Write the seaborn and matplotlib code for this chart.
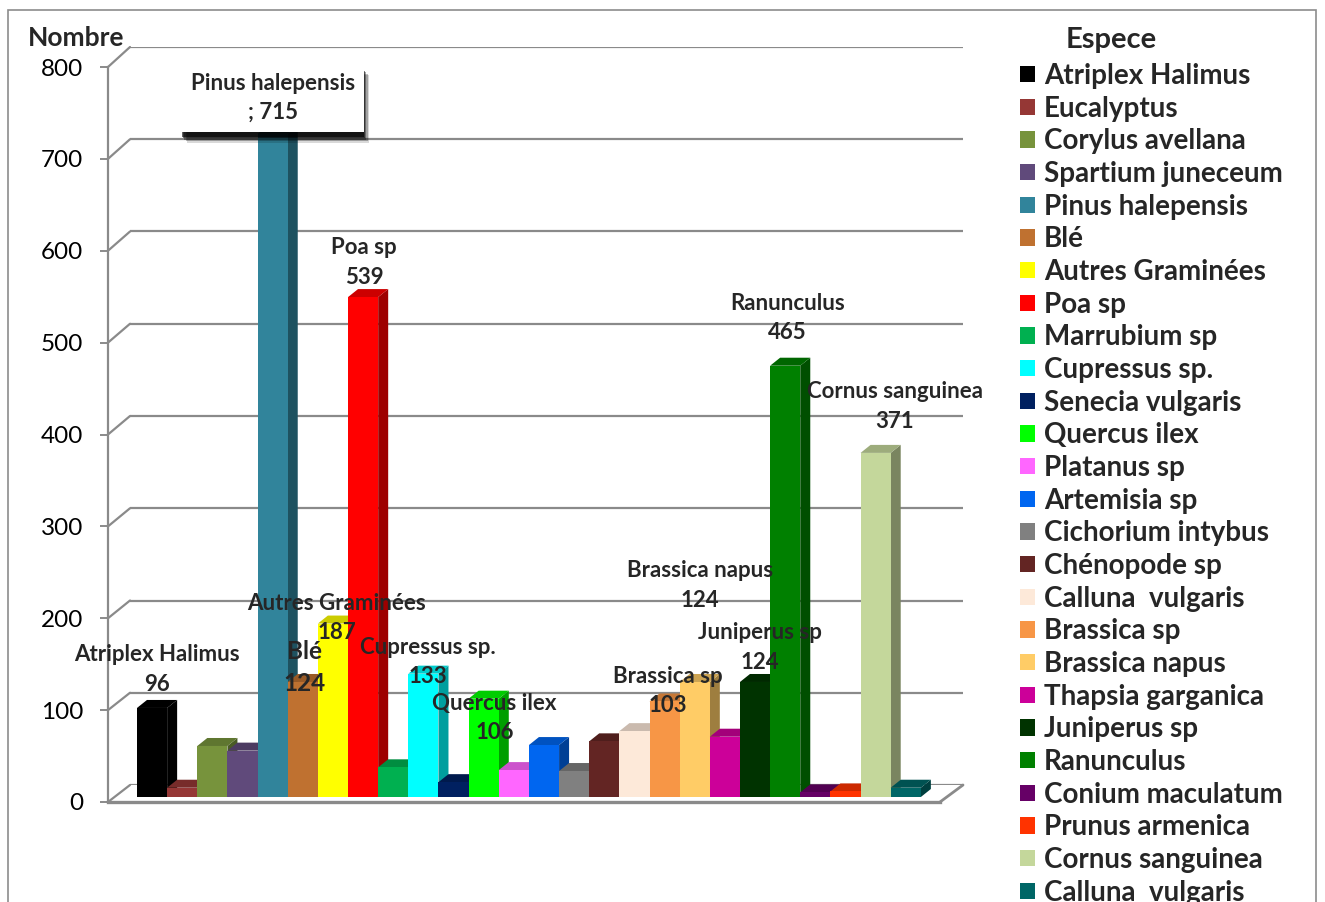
import matplotlib
matplotlib.use("Agg")
import numpy as np
import pandas as pd
import matplotlib.pyplot as plt
import seaborn as sns
from matplotlib.patches import Polygon, Rectangle, Patch
from matplotlib.lines import Line2D
from matplotlib.transforms import IdentityTransform
from matplotlib import patheffects as pe
import matplotlib.colors as mcolors

# ---- data -------------------------------------------------------------
species = [
    "Atriplex Halimus", "Eucalyptus", "Corylus avellana", "Spartium juneceum",
    "Pinus halepensis", "Blé", "Autres Graminées", "Poa sp", "Marrubium sp",
    "Cupressus sp.", "Senecia vulgaris", "Quercus ilex", "Platanus sp",
    "Artemisia sp", "Cichorium intybus", "Chénopode sp", "Calluna  vulgaris",
    "Brassica sp", "Brassica napus", "Thapsia garganica", "Juniperus sp",
    "Ranunculus", "Conium maculatum", "Prunus armenica", "Cornus sanguinea",
    "Calluna  vulgaris",
]
counts = [96, 10, 55, 50, 715, 124, 187, 539, 32, 133, 16, 106, 29, 56, 28,
          60, 71, 103, 124, 65, 124, 465, 5, 6, 371, 10]
colors = [
    "#000000", "#953735", "#77933C", "#604A7B", "#31849B", "#BF7130",
    "#FFFF00", "#FF0000", "#00B050", "#00FFFF", "#002060", "#00FF00",
    "#FF66FF", "#0066F0", "#808080", "#632523", "#FDE9D9", "#F79646",
    "#FFCC66", "#CC0099", "#003300", "#008000", "#660066", "#FF3300",
    "#C4D79B", "#006666",
]
y_ticks = [0, 100, 200, 300, 400, 500, 600, 700, 800]

# labelled bars: index -> (x offset px, y offset px of value line, font size)
labelled = {0: (5, 24, 16), 5: (2, 0, 17.5), 6: (4, -9, 16), 7: (1, 20, 16),
            9: (4, -3, 16), 11: (11, -34, 16), 17: (3, -4, 16),
            18: (5, 82, 16), 20: (5, 20, 16), 21: (2, 33, 16),
            24: (19, 32, 16)}
boxed = {4: (0, 20, 16)}

keys = [str(i) for i in range(len(species))]
df = pd.DataFrame({"key": keys, "Espece": species, "Nombre": counts})

# ---- figure -----------------------------------------------------------
W, H = 1325, 902
sns.set_theme(style="white")
plt.rcParams["font.family"] = ["Lato", "DejaVu Sans"]

fig = plt.figure(figsize=(W / 100, H / 100), dpi=100)
fig.patch.set_facecolor("white")


def px_axes(left, right, y0, y800):
    """Axes placed by pixel edges (image y measured from the top)."""
    a = fig.add_axes([left / W, 1 - y0 / H, (right - left) / W, (y0 - y800) / H])
    a.set_facecolor("none")
    return a


grid_col = "#8a8a8a"

# back wall with the horizontal grid
ax_back = px_axes(130, 963, 785, 47)
ax_back.set_xlim(0, 1)
ax_back.set_ylim(0, 800)
ax_back.set_axis_off()
for v in y_ticks:
    ax_back.axhline(v, color=grid_col, lw=1.6, zorder=1)

# front plane holding the value axis and the floor edge
ax_front = px_axes(108, 940, 802, 67)
ax_front.set_xlim(0, 1)
ax_front.set_ylim(0, 800)
ax_front.set_yticks(y_ticks)
ax_front.set_xticks([])
for s in ["top", "right"]:
    ax_front.spines[s].set_visible(False)
for s in ["left", "bottom"]:
    ax_front.spines[s].set_color(grid_col)
    ax_front.spines[s].set_linewidth(1.6)
ax_front.spines["bottom"].set_linewidth(2.4)
ax_front.tick_params(axis="y", direction="out", length=6, width=1.4,
                     color=grid_col, pad=12, labelsize=17.5, labelcolor="black",
                     left=True)

# depth lines joining the front plane and the back wall
for v in y_ticks:
    p0 = ax_front.transData.transform((0, v))
    p1 = ax_back.transData.transform((0, v))
    fig.add_artist(Line2D([p0[0], p1[0]], [p0[1], p1[1]], color=grid_col,
                          lw=1.6, transform=IdentityTransform()))
p0 = ax_front.transData.transform((1, 0))
p1 = ax_back.transData.transform((1, 0))
fig.add_artist(Line2D([p0[0], p1[0]], [p0[1], p1[1]], color=grid_col,
                      lw=2.0, transform=IdentityTransform()))

# bars
ax = px_axes(118.9, 948.9, 797, 55)
sns.barplot(data=df, x="key", y="Nombre", hue="key", order=keys,
            hue_order=keys, palette=dict(zip(keys, colors)), width=1.0,
            saturation=1, legend=False, ax=ax, linewidth=0, edgecolor="none")
ax.set_xlim(-1.1, 26.43)
ax.set_ylim(0, 800)
ax.set_axis_off()

ppx = ax.transData.transform((1, 0))[0] - ax.transData.transform((0, 0))[0]
ppy = ax.transData.transform((0, 1))[1] - ax.transData.transform((0, 0))[1]
ddx, ddy = 10 / ppx, 8 / ppy


def shade(c, f):
    r, g, b = mcolors.to_rgb(c)
    return (r * f, g * f, b * f)


bars = sorted(ax.patches, key=lambda p: p.get_x())
for i, p in enumerate(bars):
    x0, w, h = p.get_x(), p.get_width(), p.get_height()
    fc = p.get_facecolor()
    x1 = x0 + w
    side = Polygon([(x1, 0), (x1, h), (x1 + ddx, h + ddy), (x1 + ddx, ddy)],
                   closed=True, facecolor=shade(fc, 0.62), edgecolor="none",
                   zorder=3 + i * 0.01, clip_on=False)
    top = Polygon([(x0, h), (x1, h), (x1 + ddx, h + ddy), (x0 + ddx, h + ddy)],
                  closed=True, facecolor=shade(fc, 0.8), edgecolor="none",
                  zorder=3 + i * 0.01, clip_on=False)
    ax.add_patch(side)
    ax.add_patch(top)
    p.set_zorder(3 + i * 0.01 + 0.005)
    p.set_clip_on(False)

# data labels
for i, (dx, dy, fs) in labelled.items():
    p = bars[i]
    xc = p.get_x() + p.get_width() / 2
    ax.annotate(f"{species[i]}\n{counts[i]}", xy=(xc, counts[i]),
                xytext=(dx, dy + 14.5), textcoords="offset pixels",
                ha="center", va="center", fontsize=fs, fontweight="bold",
                linespacing=1.5, zorder=10, annotation_clip=False)

# callout box with a soft drop shadow
for i, (dx, dy, fs) in boxed.items():
    p = bars[i]
    xc = p.get_x() + p.get_width() / 2
    t = ax.annotate(f"{species[i]}\n; {counts[i]}", xy=(xc, counts[i]),
                    xytext=(dx, dy + 16), textcoords="offset pixels",
                    ha="center", va="center", fontsize=fs, fontweight="bold",
                    linespacing=1.45, zorder=10, annotation_clip=False,
                    bbox=dict(boxstyle="square,pad=0.4", facecolor="white",
                              edgecolor="none"))
    shadows = [pe.SimplePatchShadow(offset=(ox, oy), shadow_rgbFace="black",
                                    alpha=a)
               for ox, oy, a in [(4, -8, 0.15), (3, -7, 0.25), (2, -6, 0.35),
                                 (1, -5, 0.5), (0, -4, 0.6)]]
    t.get_bbox_patch().set_path_effects(shadows + [pe.Normal()])

# legend
handles = [Patch(facecolor=c, edgecolor="none") for c in colors]
leg = ax.legend(handles, species, loc="upper left",
                bbox_to_anchor=(1020 / W, 1 - 63 / H),
                bbox_transform=fig.transFigure, frameon=False,
                prop={"weight": "bold", "size": 20}, handlelength=0.54,
                handleheight=0.54, handletextpad=0.33, labelspacing=0.24,
                borderpad=0, borderaxespad=0)

fig.text(1066 / W, 1 - 40 / H, "Espece", fontsize=21, fontweight="bold",
         ha="left", va="center")
fig.text(28 / W, 1 - 38 / H, "Nombre", fontsize=19, fontweight="bold",
         ha="left", va="center")

# outer frame
fig.add_artist(Rectangle((8 / W, -0.05), (1316 - 8) / W, 1.05 - 10 / H,
                         transform=fig.transFigure, fill=False,
                         edgecolor="#8c8c8c", lw=1.2))

fig.savefig("out.png", dpi=100, facecolor="white")
